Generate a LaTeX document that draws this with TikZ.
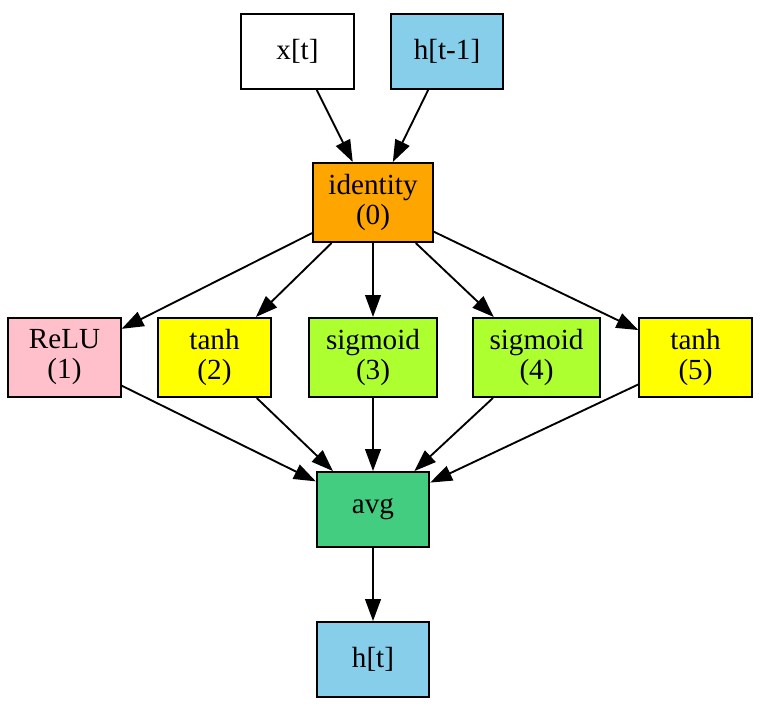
\documentclass[tikz,border=0pt]{standalone}
\usepackage{fontspec}
\setmainfont{Liberation Serif}
\usetikzlibrary{arrows.meta}

\definecolor{skyblue}{RGB}{135,206,235}
\definecolor{gvorange}{RGB}{255,165,0}
\definecolor{gvpink}{RGB}{255,192,203}
\definecolor{gvyellow}{RGB}{255,255,0}
\definecolor{greenyellow}{RGB}{173,255,47}
\definecolor{seagreen}{RGB}{67,205,128}

\begin{document}
\begin{tikzpicture}[
		x=0.48pt, y=-0.48pt,
		op/.style={draw, line width=0.9pt, minimum width=54pt, minimum height=38pt, inner sep=2pt, align=center, font=\fontsize{14}{14.4}\selectfont},
		io/.style={op, minimum height=36pt},
		>={Triangle[length=10.5pt,width=7.5pt]}
	]
	\useasboundingbox (0,0) rectangle (761,708);

	\node[io] (xt) at (297.5,51.5) {x[t]};
	\node[io, fill=skyblue] (hprev) at (447,51.5) {h[t-1]};

	\node[op, fill=gvorange, minimum width=57.6pt] (ident) at (373,202.5) {identity\\(0)};

	\node[op, fill=gvpink] (relu) at (64.5,357.5) {ReLU\\(1)};
	\node[op, fill=gvyellow] (tanhA) at (214.5,357.5) {tanh\\(2)};
	\node[op, fill=greenyellow, minimum width=61.44pt] (sigA) at (373,357.5) {sigmoid\\(3)};
	\node[op, fill=greenyellow, minimum width=61pt] (sigB) at (536.5,357.5) {sigmoid\\(4)};
	\node[op, fill=gvyellow] (tanhB) at (695.5,357.5) {tanh\\(5)};

	\node[io, fill=seagreen] (avg) at (373,509.5) {avg};
	\node[io, fill=skyblue] (ht) at (373,659.5) {h[t]};

	\draw[->, line width=0.9pt] (xt) -- (ident);
	\draw[->, line width=0.9pt] (hprev) -- (ident);

	\foreach \n in {relu,tanhA,sigA,sigB,tanhB} {
		\draw[->, line width=0.9pt] (ident) -- (\n);
		\draw[->, line width=0.9pt] (\n) -- (avg);
	}

	\draw[->, line width=0.9pt] (avg) -- (ht);
\end{tikzpicture}
\end{document}
